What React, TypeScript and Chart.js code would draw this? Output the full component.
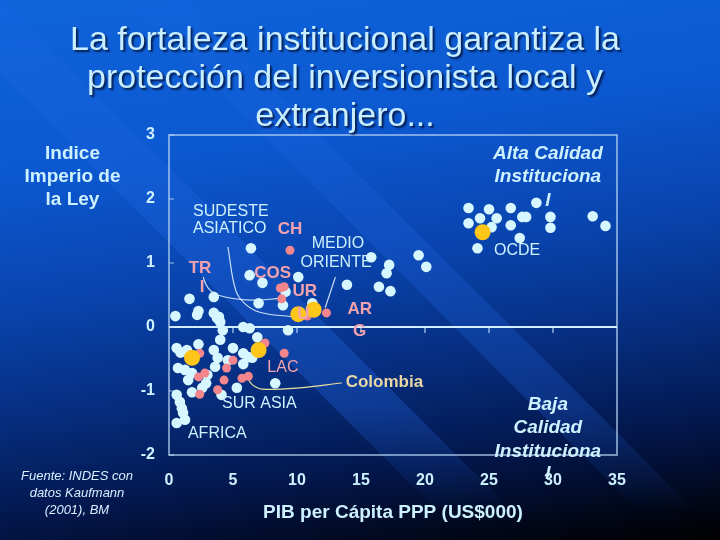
import { useEffect, useRef } from 'react'
import Chart from 'chart.js/auto'

// PIB per cápita PPP (miles de US$) contra índice de imperio de la ley
const otherGdp = [
  23.4, 25.0, 26.7, 28.7, 24.3, 25.6, 23.4, 25.2, 26.7, 27.6, 27.9, 29.8, 29.8, 33.1, 34.1, 27.4, 24.1,
  19.5, 20.1, 15.8, 17.2, 17.0, 13.9, 16.4, 17.3,
  6.4, 6.3, 7.3, 10.1, 9.1, 8.9, 7.0, 3.5, 1.6, 2.3, 3.5, 3.9, 0.5, 11.2,
  3.75, 4.0, 2.2, 4.2, 5.8, 6.3, 9.3,
  6.9, 5.0, 4.0, 3.5, 2.3, 0.6, 0.9, 1.4, 3.8, 4.6, 5.8, 6.2, 6.5, 5.8, 3.6, 0.7, 1.25, 1.8, 3.0,
  1.5, 2.9, 2.6, 5.3, 1.8, 4.1, 8.3, 0.6, 0.85, 1.0, 1.1, 0.6, 1.25,
]
const otherRule = [
  1.86, 1.84, 1.86, 1.94, 1.7, 1.7, 1.62, 1.56, 1.59, 1.72, 1.72, 1.72, 1.55, 1.73, 1.58, 1.39, 1.23,
  1.12, 0.94, 1.09, 0.97, 0.84, 0.66, 0.63, 0.56,
  1.23, 0.81, 0.69, 0.78, 0.55, 0.34, 0.37, 0.47, 0.44, 0.25, 0.22, 0.16, 0.17, 0.37,
  0.14, 0.08, 0.19, -0.05, 0.0, -0.02, -0.05,
  -0.16, -0.33, -0.2, -0.36, -0.27, -0.33, -0.4, -0.36, -0.48, -0.52, -0.41, -0.47, -0.48, -0.58, -0.62, -0.64, -0.67, -0.72, -0.75,
  -0.83, -0.88, -0.95, -0.95, -1.02, -1.06, -0.88, -1.06, -1.17, -1.27, -1.34, -1.5, -1.45,
]
const lacGdp = [9.45, 8.7, 9.0, 8.8, 10.8, 12.3, 7.5, 9.0, 2.4, 5.0, 4.5, 2.3, 2.8, 4.3, 5.7, 6.2, 3.8, 2.4]
const lacRule = [1.2, 0.61, 0.63, 0.44, 0.17, 0.22, -0.25, -0.41, -0.41, -0.52, -0.64, -0.78, -0.72, -0.83, -0.8, -0.77, -0.98, -1.05]
const highlightGdp = [10.1, 11.3, 7.0, 1.8, 24.5]
const highlightRule = [0.2, 0.27, -0.36, -0.48, 1.48]

// líneas guía de las etiquetas regionales
const seAsiaGdp = [4.6, 5.2, 5.9, 7.1, 9.6]
const seAsiaRule = [1.25, 0.58, 0.37, 0.23, 0.16]
const triGdp = [2.66, 3.05, 3.8, 6.3, 8.8]
const triRule = [0.78, 0.61, 0.5, 0.42, 0.45]
const meGdp = [13.0, 12.2]
const meRule = [0.78, 0.3]
const colGdp = [6.1, 6.5, 7.3, 10.2, 13.5]
const colRule = [-0.78, -0.9, -0.97, -0.95, -0.875]

const FONT = '"Liberation Sans", Arial, sans-serif'
const CYAN = '#cdf1ff'
const PINK = '#f2a2ae'
const GOLD = '#e9d8a4'

type Note = { text: string; x: number; y: number; color: string; font: string; align?: CanvasTextAlign }

const notes: Note[] = [
  { text: 'SUDESTE', x: 1.875, y: 1.81, color: CYAN, font: `16px ${FONT}`, align: 'left' },
  { text: 'ASIATICO', x: 1.875, y: 1.53, color: CYAN, font: `16px ${FONT}`, align: 'left' },
  { text: 'CH', x: 9.45, y: 1.53, color: PINK, font: `bold 17px ${FONT}` },
  { text: 'MEDIO', x: 13.2, y: 1.31, color: CYAN, font: `16px ${FONT}` },
  { text: 'ORIENTE', x: 13.05, y: 1.0, color: CYAN, font: `16px ${FONT}` },
  { text: 'TR', x: 2.42, y: 0.92, color: PINK, font: `bold 17px ${FONT}` },
  { text: 'I', x: 2.58, y: 0.625, color: PINK, font: `bold 17px ${FONT}` },
  { text: 'COS', x: 8.1, y: 0.84, color: PINK, font: `bold 17px ${FONT}` },
  { text: 'UR', x: 10.6, y: 0.56, color: PINK, font: `bold 17px ${FONT}` },
  { text: 'U', x: 10.5, y: 0.2, color: PINK, font: `bold 17px ${FONT}` },
  { text: 'AR', x: 14.9, y: 0.27, color: PINK, font: `bold 17px ${FONT}` },
  { text: 'G', x: 14.9, y: -0.06, color: PINK, font: `bold 17px ${FONT}` },
  { text: 'LAC', x: 8.9, y: -0.64, color: PINK, font: `16px ${FONT}` },
  { text: 'Colombia', x: 13.8, y: -0.86, color: GOLD, font: `bold 17px ${FONT}`, align: 'left' },
  { text: 'SUR ASIA', x: 4.14, y: -1.19, color: CYAN, font: `16px ${FONT}`, align: 'left' },
  { text: 'AFRICA', x: 1.48, y: -1.66, color: CYAN, font: `16px ${FONT}`, align: 'left' },
  { text: 'OCDE', x: 27.2, y: 1.19, color: CYAN, font: `16px ${FONT}` },
  { text: 'Alta Calidad', x: 29.6, y: 2.7, color: CYAN, font: `italic bold 19px ${FONT}` },
  { text: 'Instituciona', x: 29.6, y: 2.34, color: CYAN, font: `italic bold 19px ${FONT}` },
  { text: 'l', x: 29.6, y: 1.98, color: CYAN, font: `italic bold 19px ${FONT}` },
  { text: 'Baja', x: 29.6, y: -1.22, color: CYAN, font: `italic bold 19px ${FONT}` },
  { text: 'Calidad', x: 29.6, y: -1.58, color: CYAN, font: `italic bold 19px ${FONT}` },
  { text: 'Instituciona', x: 29.6, y: -1.95, color: CYAN, font: `italic bold 19px ${FONT}` },
  { text: 'l', x: 29.6, y: -2.3, color: CYAN, font: `italic bold 19px ${FONT}` },
]

const pairs = (xs: number[], ys: number[]) => xs.map((x, i) => ({ x, y: ys[i] }))

const framePlugin = {
  id: 'frame',
  beforeDatasetsDraw(chart: any) {
    const { ctx, chartArea: a, scales } = chart
    const x = scales.x
    const y = scales.y
    const seg = (x1: number, y1: number, x2: number, y2: number) => {
      ctx.beginPath()
      ctx.moveTo(x1, y1)
      ctx.lineTo(x2, y2)
      ctx.stroke()
    }
    ctx.save()
    ctx.strokeStyle = 'rgba(185,215,245,0.85)'
    ctx.lineWidth = 1.5
    ctx.strokeRect(a.left, a.top, a.right - a.left, a.bottom - a.top)
    const y0 = y.getPixelForValue(0)
    ctx.strokeStyle = '#d4efff'
    ctx.lineWidth = 2
    seg(a.left, y0, a.right, y0)
    ctx.lineWidth = 1
    x.ticks.forEach((t: any) => {
      if (t.value > 0 && t.value < 35) {
        const px = x.getPixelForValue(t.value)
        seg(px, y0, px, y0 + 6)
      }
    })
    ctx.strokeStyle = 'rgba(185,215,245,0.85)'
    y.ticks.forEach((t: any) => {
      const py = y.getPixelForValue(t.value)
      seg(a.left, py, a.left + 5, py)
    })
    ctx.restore()
  },
  afterDatasetsDraw(chart: any) {
    const { ctx, scales } = chart
    ctx.save()
    ctx.textBaseline = 'middle'
    notes.forEach((n) => {
      ctx.font = n.font
      ctx.fillStyle = n.color
      ctx.textAlign = n.align || 'center'
      ctx.fillText(n.text, scales.x.getPixelForValue(n.x), scales.y.getPixelForValue(n.y))
    })
    ctx.restore()
  },
}

function ScatterChart() {
  const canvasRef = useRef<HTMLCanvasElement>(null)
  const chartRef = useRef<Chart | null>(null)

  useEffect(() => {
    if (!canvasRef.current) return
    if (chartRef.current) chartRef.current.destroy()
    const ctx = canvasRef.current.getContext('2d')
    if (!ctx) return

    const guide = (xs: number[], ys: number[], color: string) => ({
      data: pairs(xs, ys),
      showLine: true,
      borderColor: color,
      borderWidth: 1.2,
      tension: 0.4,
      pointRadius: 0,
      fill: false,
    })

    chartRef.current = new Chart(ctx, {
      type: 'scatter',
      data: {
        datasets: [
          {
            data: pairs(highlightGdp, highlightRule),
            backgroundColor: '#ffc61a',
            borderWidth: 0,
            pointRadius: 8,
          },
          {
            data: pairs(lacGdp, lacRule),
            backgroundColor: '#f2868c',
            borderWidth: 0,
            pointRadius: 4.5,
          },
          {
            data: pairs(otherGdp, otherRule),
            backgroundColor: '#d6f7ff',
            borderWidth: 0,
            pointRadius: 5.3,
          },
          guide(seAsiaGdp, seAsiaRule, 'rgba(220,240,255,0.9)'),
          guide(triGdp, triRule, 'rgba(220,240,255,0.9)'),
          guide(meGdp, meRule, 'rgba(220,240,255,0.9)'),
          guide(colGdp, colRule, '#e8e0a0'),
        ] as any,
      },
      options: {
        responsive: true,
        maintainAspectRatio: false,
        animation: false,
        layout: { padding: { top: 135, right: 103, left: 0, bottom: 0 } },
        plugins: {
          legend: { display: false },
          tooltip: { enabled: false },
        },
        scales: {
          x: {
            type: 'linear',
            min: 0,
            max: 35,
            ticks: { stepSize: 5, color: CYAN, padding: 16, font: { family: FONT, size: 16, weight: 'bold' } },
            grid: { display: false, drawTicks: false },
            border: { display: false },
            title: {
              display: true,
              text: 'PIB per Cápita PPP (US$000)',
              color: CYAN,
              font: { family: FONT, size: 19, weight: 'bold' },
              padding: { top: 0, bottom: 16 },
            },
            afterFit: (s: any) => {
              s.height = 85
            },
          },
          y: {
            min: -2,
            max: 3,
            ticks: { stepSize: 1, color: CYAN, padding: 14, font: { family: FONT, size: 16, weight: 'bold' } },
            grid: { display: false, drawTicks: false },
            border: { display: false },
            afterFit: (s: any) => {
              s.width = 169
            },
          },
        },
      } as any,
      plugins: [framePlugin],
    })

    return () => {
      if (chartRef.current) {
        chartRef.current.destroy()
        chartRef.current = null
      }
    }
  }, [])

  return <canvas ref={canvasRef} />
}

export default function App() {
  const textShadow = '2px 2px 2px rgba(0,0,20,0.7)'
  return (
    <div
      style={{
        position: 'absolute',
        top: 0,
        left: 0,
        width: 720,
        height: 540,
        overflow: 'hidden',
        fontFamily: FONT,
        background:
          'linear-gradient(172deg, #0f64dc 0%, #0c58d0 28%, #0944ae 48%, #062d7e 66%, #03164a 82%, #01040e 96%, #000 100%)',
      }}
    >
      <div
        style={{
          position: 'absolute',
          inset: 0,
          background:
            'linear-gradient(45deg, transparent 37%, rgba(35,105,230,0.32) 37%, rgba(35,105,230,0.32) 43%, transparent 43%, transparent 53%, rgba(35,105,230,0.26) 53%, rgba(35,105,230,0.26) 57.5%, transparent 57.5%)',
          WebkitMaskImage: 'linear-gradient(to bottom, rgba(0,0,0,0.5) 0%, #000 45%, #000 75%, transparent 95%)',
          maskImage: 'linear-gradient(to bottom, rgba(0,0,0,0.5) 0%, #000 45%, #000 75%, transparent 95%)',
        }}
      />
      <div style={{ position: 'absolute', inset: 0 }}>
        <ScatterChart />
      </div>
      <div
        style={{
          position: 'absolute',
          top: 19,
          left: 0,
          width: 690,
          textAlign: 'center',
          fontSize: 34,
          lineHeight: '38px',
          color: '#c9eeff',
          textShadow,
        }}
      >
        La fortaleza institucional garantiza la
        <br />
        protección del inversionista local y
        <br />
        extranjero...
      </div>
      <div
        style={{
          position: 'absolute',
          top: 141,
          left: 0,
          width: 145,
          textAlign: 'center',
          fontSize: 19,
          fontWeight: 'bold',
          lineHeight: '23px',
          color: CYAN,
        }}
      >
        Indice
        <br />
        Imperio de
        <br />
        la Ley
      </div>
      <div
        style={{
          position: 'absolute',
          top: 467,
          left: 0,
          width: 154,
          textAlign: 'center',
          fontSize: 13,
          fontStyle: 'italic',
          lineHeight: '17px',
          color: '#d8eeff',
        }}
      >
        Fuente: INDES con
        <br />
        datos Kaufmann
        <br />
        (2001), BM
      </div>
    </div>
  )
}
